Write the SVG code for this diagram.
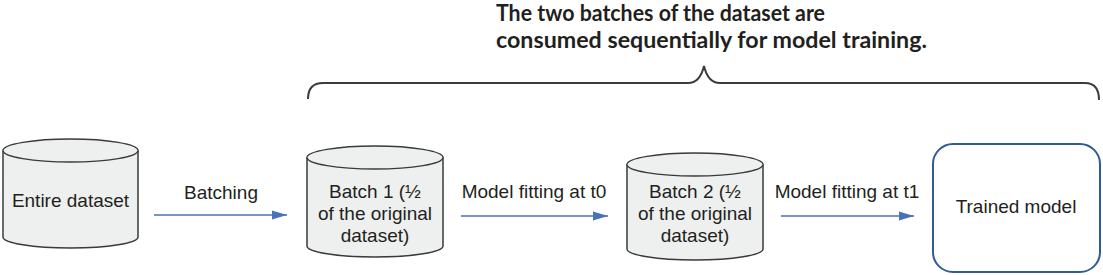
<svg xmlns="http://www.w3.org/2000/svg" width="1103" height="275" viewBox="0 0 1103 275">
<style>
.cyl{fill:#eeefef;stroke:#3a3a3a;stroke-width:1.5}
.lbl{font-family:"Liberation Sans",Arial,sans-serif;font-size:19px;fill:#231f20;text-anchor:middle}
.title{font-family:Lato,"Open Sans",sans-serif;font-weight:bold;font-size:22px;fill:#231f20}
.conn{stroke:#4a72b8;stroke-width:1.6;fill:none}
.brace{stroke:#3c3c3c;stroke-width:2;fill:none}
</style>
<defs>
<marker id="ah" viewBox="0 0 15 10" refX="15" refY="5" markerWidth="15" markerHeight="10" markerUnits="userSpaceOnUse" orient="auto">
<path d="M0,0.5 L15,5 L0,9.5 Z" fill="#4a72b8"/>
</marker>
</defs>
<g id="title">
<text class="title" x="496" y="21" textLength="329" lengthAdjust="spacingAndGlyphs">The two batches of the dataset are</text>
<text class="title" x="496" y="48" textLength="431" lengthAdjust="spacingAndGlyphs">consumed sequentially for model training.</text>
</g>
<g id="brace">
<path class="brace" d="M308,99 Q308,83 323,83 L688,83 Q700,83 704,66 Q708,83 720,83 L1085,83 Q1099,83 1099,100"/>
</g>
<g id="entire">
<path class="cyl" d="M3,150.5 A67.5,11.5 0 0 1 138,150.5 L138,237 A67.5,11 0 0 1 3,237 Z"/>
<path class="cyl" d="M3,150.5 A67.5,11.5 0 0 0 138,150.5" fill="none"/>
<text class="lbl" x="70.5" y="207">Entire dataset</text>
</g>
<g id="batch1">
<path class="cyl" d="M307,157.5 A68,11.5 0 0 1 443,157.5 L443,246 A68,11 0 0 1 307,246 Z"/>
<path class="cyl" d="M307,157.5 A68,11.5 0 0 0 443,157.5" fill="none"/>
<text class="lbl" x="375" y="198">Batch 1 (½</text>
<text class="lbl" x="375" y="220">of the original</text>
<text class="lbl" x="375" y="242">dataset)</text>
</g>
<g id="batch2">
<path class="cyl" d="M627,164.5 A68,11.5 0 0 1 763,164.5 L763,249 A68,11 0 0 1 627,249 Z"/>
<path class="cyl" d="M627,164.5 A68,11.5 0 0 0 763,164.5" fill="none"/>
<text class="lbl" x="695" y="198">Batch 2 (½</text>
<text class="lbl" x="695" y="220">of the original</text>
<text class="lbl" x="695" y="242">dataset)</text>
</g>
<g id="trained">
<rect x="933" y="144" width="167" height="128" rx="20" ry="20" fill="#ffffff" stroke="#2f5b97" stroke-width="2"/>
<text class="lbl" x="1016" y="213">Trained model</text>
</g>
<g id="connectors">
<line class="conn" x1="154" y1="215" x2="287" y2="215" marker-end="url(#ah)"/>
<line class="conn" x1="461" y1="216" x2="608" y2="216" marker-end="url(#ah)"/>
<line class="conn" x1="781" y1="216" x2="914" y2="216" marker-end="url(#ah)"/>
<text class="lbl" x="221" y="199">Batching</text>
<text class="lbl" x="534" y="198">Model fitting at t0</text>
<text class="lbl" x="847" y="198">Model fitting at t1</text>
</g>
</svg>
